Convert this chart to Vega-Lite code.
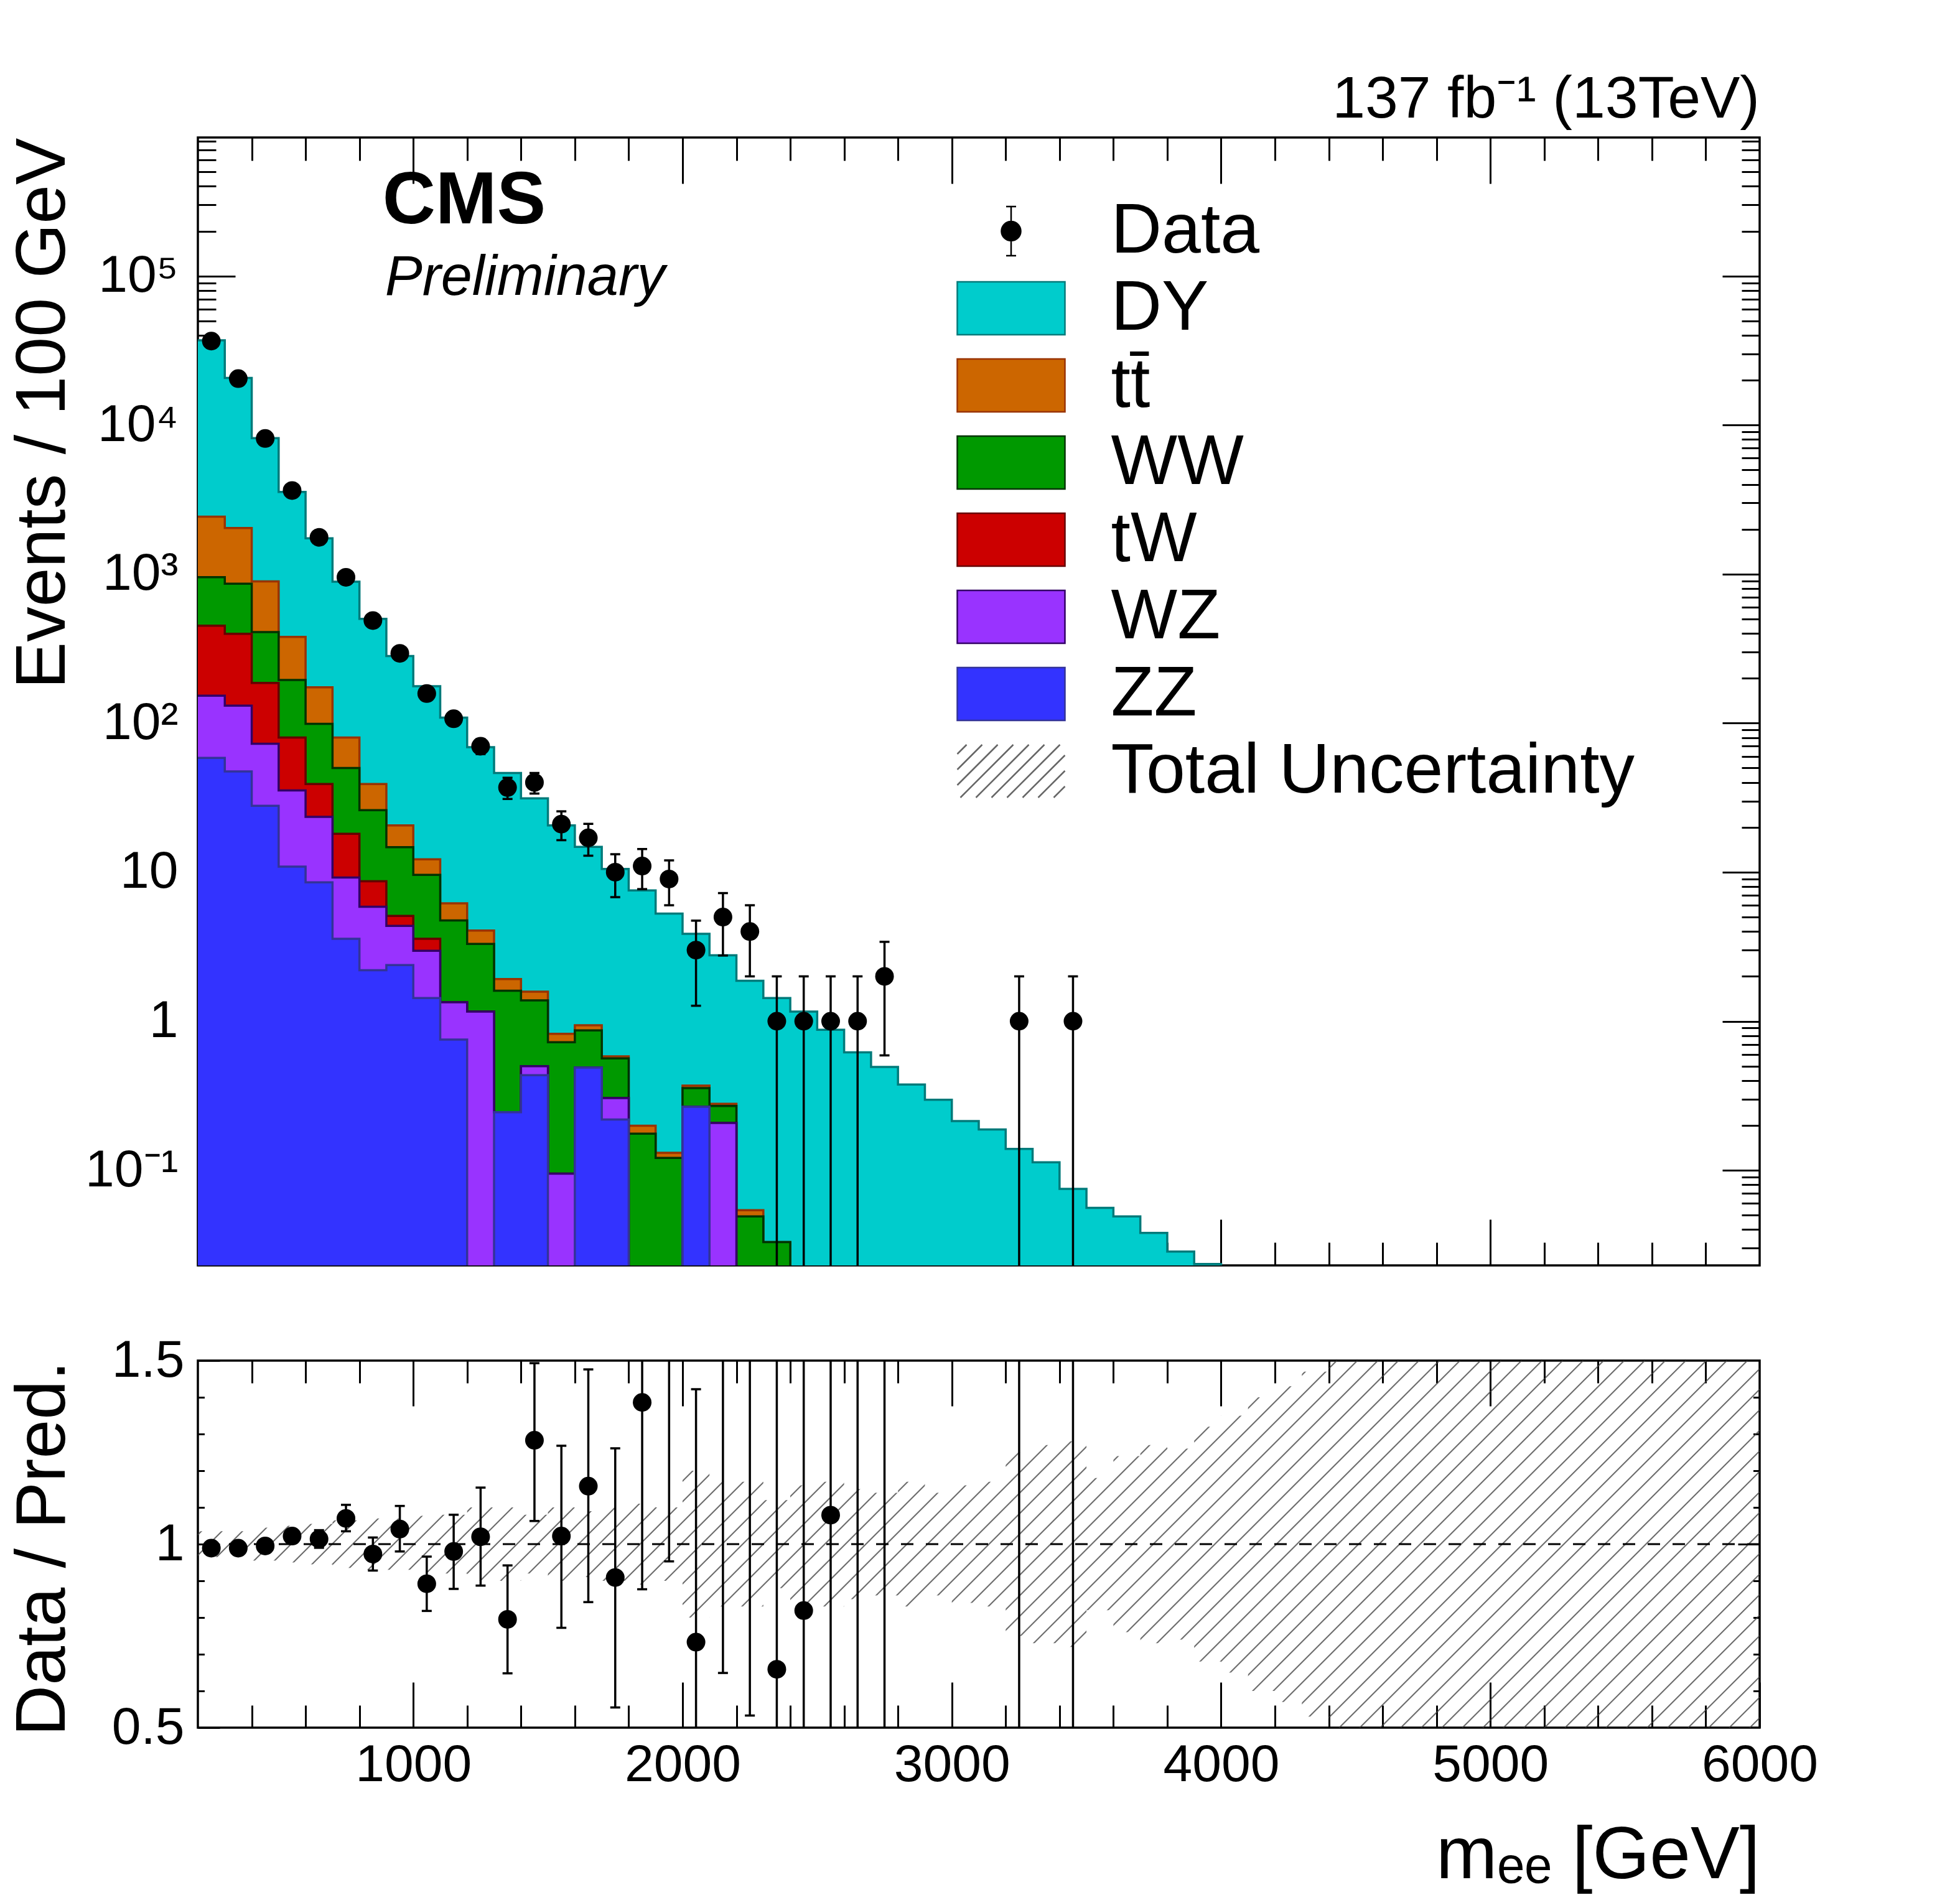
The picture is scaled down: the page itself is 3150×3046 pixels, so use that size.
{
  "$schema": "https://vega.github.io/schema/vega-lite/v6.json",
  "background": "white",
  "padding": {"left": 11, "top": 111, "right": 20, "bottom": 20},
  "bounds": "flush",
  "spacing": 153,
  "datasets": {
    "mc": [
      {"lo": 200, "dy": 37000, "tt": 2430, "ww": 953, "tw": 451, "wz": 153, "zz": 58.4},
      {"lo": 300, "dy": 20700, "tt": 2040, "ww": 863, "tw": 398, "wz": 131, "zz": 47.4},
      {"lo": 400, "dy": 8170, "tt": 893, "ww": 408, "tw": 186, "wz": 72.8, "zz": 27.9},
      {"lo": 500, "dy": 3560, "tt": 379, "ww": 195, "tw": 80, "wz": 35.4, "zz": 10.9},
      {"lo": 600, "dy": 1740, "tt": 174, "ww": 99, "tw": 39, "wz": 23.5, "zz": 8.55},
      {"lo": 700, "dy": 890, "tt": 80, "ww": 50, "tw": 18.1, "wz": 9.2, "zz": 3.57},
      {"lo": 800, "dy": 501, "tt": 39, "ww": 26.1, "tw": 8.7, "wz": 5.86, "zz": 2.2},
      {"lo": 900, "dy": 282, "tt": 20.6, "ww": 14.7, "tw": 5.09, "wz": 4.36, "zz": 2.38},
      {"lo": 1000, "dy": 177, "tt": 12.2, "ww": 9.6, "tw": 3.57, "wz": 2.97, "zz": 1.43},
      {"lo": 1100, "dy": 109, "tt": 6.18, "ww": 4.75, "tw": 1.34, "wz": 1.34, "zz": 0.753},
      {"lo": 1200, "dy": 69, "tt": 4.06, "ww": 3.3, "tw": 1.16, "wz": 1.16, "zz": 0.001},
      {"lo": 1300, "dy": 46.3, "tt": 1.92, "ww": 1.6, "tw": 0.245, "wz": 0.245, "zz": 0.245},
      {"lo": 1400, "dy": 31.3, "tt": 1.58, "ww": 1.38, "tw": 0.5, "wz": 0.5, "zz": 0.435},
      {"lo": 1500, "dy": 20.6, "tt": 0.824, "ww": 0.723, "tw": 0.095, "wz": 0.095, "zz": 0.001},
      {"lo": 1600, "dy": 14.8, "tt": 0.94, "ww": 0.869, "tw": 0.489, "wz": 0.489, "zz": 0.489},
      {"lo": 1700, "dy": 10.5, "tt": 0.581, "ww": 0.563, "tw": 0.305, "wz": 0.305, "zz": 0.219},
      {"lo": 1800, "dy": 7.54, "tt": 0.199, "ww": 0.176, "tw": 0.001, "wz": 0.001, "zz": 0.001},
      {"lo": 1900, "dy": 5.28, "tt": 0.131, "ww": 0.121, "tw": 0.001, "wz": 0.001, "zz": 0.001},
      {"lo": 2000, "dy": 3.86, "tt": 0.37, "ww": 0.356, "tw": 0.267, "wz": 0.267, "zz": 0.267},
      {"lo": 2100, "dy": 2.77, "tt": 0.279, "ww": 0.27, "tw": 0.208, "wz": 0.208, "zz": 0.001},
      {"lo": 2200, "dy": 1.87, "tt": 0.054, "ww": 0.049, "tw": 0.001, "wz": 0.001, "zz": 0.001},
      {"lo": 2300, "dy": 1.43, "tt": 0.033, "ww": 0.033, "tw": 0.001, "wz": 0.001, "zz": 0.001},
      {"lo": 2400, "dy": 1.16, "tt": 0.001, "ww": 0.001, "tw": 0.001, "wz": 0.001, "zz": 0.001},
      {"lo": 2500, "dy": 0.877, "tt": 0.001, "ww": 0.001, "tw": 0.001, "wz": 0.001, "zz": 0.001},
      {"lo": 2600, "dy": 0.618, "tt": 0.001, "ww": 0.001, "tw": 0.001, "wz": 0.001, "zz": 0.001},
      {"lo": 2700, "dy": 0.493, "tt": 0.001, "ww": 0.001, "tw": 0.001, "wz": 0.001, "zz": 0.001},
      {"lo": 2800, "dy": 0.376, "tt": 0.001, "ww": 0.001, "tw": 0.001, "wz": 0.001, "zz": 0.001},
      {"lo": 2900, "dy": 0.297, "tt": 0.001, "ww": 0.001, "tw": 0.001, "wz": 0.001, "zz": 0.001},
      {"lo": 3000, "dy": 0.214, "tt": 0.001, "ww": 0.001, "tw": 0.001, "wz": 0.001, "zz": 0.001},
      {"lo": 3100, "dy": 0.188, "tt": 0.001, "ww": 0.001, "tw": 0.001, "wz": 0.001, "zz": 0.001},
      {"lo": 3200, "dy": 0.139, "tt": 0.001, "ww": 0.001, "tw": 0.001, "wz": 0.001, "zz": 0.001},
      {"lo": 3300, "dy": 0.113, "tt": 0.001, "ww": 0.001, "tw": 0.001, "wz": 0.001, "zz": 0.001},
      {"lo": 3400, "dy": 0.075, "tt": 0.001, "ww": 0.001, "tw": 0.001, "wz": 0.001, "zz": 0.001},
      {"lo": 3500, "dy": 0.056, "tt": 0.001, "ww": 0.001, "tw": 0.001, "wz": 0.001, "zz": 0.001},
      {"lo": 3600, "dy": 0.049, "tt": 0.001, "ww": 0.001, "tw": 0.001, "wz": 0.001, "zz": 0.001},
      {"lo": 3700, "dy": 0.038, "tt": 0.001, "ww": 0.001, "tw": 0.001, "wz": 0.001, "zz": 0.001},
      {"lo": 3800, "dy": 0.0285, "tt": 0.001, "ww": 0.001, "tw": 0.001, "wz": 0.001, "zz": 0.001},
      {"lo": 3900, "dy": 0.0235, "tt": 0.001, "ww": 0.001, "tw": 0.001, "wz": 0.001, "zz": 0.001},
      {"lo": 4000, "dy": 0.001, "tt": 0.001, "ww": 0.001, "tw": 0.001, "wz": 0.001, "zz": 0.001},
      {"lo": 6000, "dy": 0.001, "tt": 0.001, "ww": 0.001, "tw": 0.001, "wz": 0.001, "zz": 0.001}
    ],
    "obs": [
      {"x": 250, "n": 36600, "lo": 36409, "hi": 36791},
      {"x": 350, "n": 20500, "lo": 20357, "hi": 20643},
      {"x": 450, "n": 8130, "lo": 8040, "hi": 8220},
      {"x": 550, "n": 3640, "lo": 3580, "hi": 3700},
      {"x": 650, "n": 1765, "lo": 1723, "hi": 1807},
      {"x": 750, "n": 952, "lo": 921, "hi": 983},
      {"x": 850, "n": 488, "lo": 466, "hi": 510},
      {"x": 950, "n": 294, "lo": 277, "hi": 311},
      {"x": 1050, "n": 158, "lo": 145, "hi": 171},
      {"x": 1150, "n": 107, "lo": 97, "hi": 117},
      {"x": 1250, "n": 70, "lo": 62, "hi": 78},
      {"x": 1350, "n": 37, "lo": 31, "hi": 43},
      {"x": 1450, "n": 40, "lo": 33.7, "hi": 46.3},
      {"x": 1550, "n": 21, "lo": 16.4, "hi": 25.6},
      {"x": 1650, "n": 17, "lo": 12.9, "hi": 21.1},
      {"x": 1750, "n": 10, "lo": 6.8, "hi": 13.2},
      {"x": 1850, "n": 11, "lo": 7.7, "hi": 14.3},
      {"x": 1950, "n": 9, "lo": 6, "hi": 12},
      {"x": 2050, "n": 3, "lo": 1.27, "hi": 4.73},
      {"x": 2150, "n": 5, "lo": 2.76, "hi": 7.24},
      {"x": 2250, "n": 4, "lo": 2, "hi": 6},
      {"x": 2350, "n": 1, "lo": 0.001, "hi": 2},
      {"x": 2450, "n": 1, "lo": 0.001, "hi": 2},
      {"x": 2550, "n": 1, "lo": 0.001, "hi": 2},
      {"x": 2650, "n": 1, "lo": 0.001, "hi": 2},
      {"x": 2750, "n": 2, "lo": 0.59, "hi": 3.41},
      {"x": 3250, "n": 1, "lo": 0.001, "hi": 2},
      {"x": 3450, "n": 1, "lo": 0.001, "hi": 2}
    ],
    "ratio": [
      {"x": 250, "r": 0.989, "lo": 0.984, "hi": 0.994},
      {"x": 350, "r": 0.989, "lo": 0.982, "hi": 0.996},
      {"x": 450, "r": 0.995, "lo": 0.984, "hi": 1.006},
      {"x": 550, "r": 1.022, "lo": 1.005, "hi": 1.039},
      {"x": 650, "r": 1.014, "lo": 0.99, "hi": 1.038},
      {"x": 750, "r": 1.07, "lo": 1.035, "hi": 1.107},
      {"x": 850, "r": 0.973, "lo": 0.928, "hi": 1.018},
      {"x": 950, "r": 1.041, "lo": 0.98, "hi": 1.104},
      {"x": 1050, "r": 0.892, "lo": 0.818, "hi": 0.966},
      {"x": 1150, "r": 0.98, "lo": 0.878, "hi": 1.08},
      {"x": 1250, "r": 1.02, "lo": 0.887, "hi": 1.154},
      {"x": 1350, "r": 0.795, "lo": 0.648, "hi": 0.942},
      {"x": 1450, "r": 1.283, "lo": 1.063, "hi": 1.493},
      {"x": 1550, "r": 1.022, "lo": 0.772, "hi": 1.268},
      {"x": 1650, "r": 1.158, "lo": 0.842, "hi": 1.476},
      {"x": 1750, "r": 0.909, "lo": 0.555, "hi": 1.261},
      {"x": 1850, "r": 1.386, "lo": 0.877, "hi": 1.9},
      {"x": 1950, "r": 1.7, "lo": 0.953, "hi": 2.4},
      {"x": 2050, "r": 0.733, "lo": 0.045, "hi": 1.422},
      {"x": 2150, "r": 1.8, "lo": 0.649, "hi": 2.9},
      {"x": 2250, "r": 2.1, "lo": 0.533, "hi": 3.2},
      {"x": 2350, "r": 0.659, "lo": 0.2, "hi": 2},
      {"x": 2450, "r": 0.819, "lo": 0.2, "hi": 2},
      {"x": 2550, "r": 1.079, "lo": 0.2, "hi": 2},
      {"x": 2650, "r": 1.6, "lo": 0.2, "hi": 2.5},
      {"x": 2750, "r": 4, "lo": 0.2, "hi": 6},
      {"x": 3250, "r": 7, "lo": 0.2, "hi": 14},
      {"x": 3450, "r": 13, "lo": 0.2, "hi": 26}
    ],
    "band": [
      {"lo": 200, "blo": 0.965, "bhi": 1.035},
      {"lo": 300, "blo": 0.965, "bhi": 1.035},
      {"lo": 400, "blo": 0.955, "bhi": 1.045},
      {"lo": 500, "blo": 0.95, "bhi": 1.05},
      {"lo": 600, "blo": 0.945, "bhi": 1.055},
      {"lo": 700, "blo": 0.935, "bhi": 1.065},
      {"lo": 800, "blo": 0.93, "bhi": 1.07},
      {"lo": 900, "blo": 0.93, "bhi": 1.07},
      {"lo": 1000, "blo": 0.923, "bhi": 1.077},
      {"lo": 1100, "blo": 0.92, "bhi": 1.08},
      {"lo": 1200, "blo": 0.9, "bhi": 1.1},
      {"lo": 1300, "blo": 0.9, "bhi": 1.1},
      {"lo": 1400, "blo": 0.92, "bhi": 1.08},
      {"lo": 1500, "blo": 0.9, "bhi": 1.1},
      {"lo": 1600, "blo": 0.91, "bhi": 1.09},
      {"lo": 1700, "blo": 0.9, "bhi": 1.1},
      {"lo": 1800, "blo": 0.89, "bhi": 1.11},
      {"lo": 1900, "blo": 0.9, "bhi": 1.1},
      {"lo": 2000, "blo": 0.8, "bhi": 1.2},
      {"lo": 2100, "blo": 0.83, "bhi": 1.17},
      {"lo": 2200, "blo": 0.83, "bhi": 1.17},
      {"lo": 2300, "blo": 0.88, "bhi": 1.12},
      {"lo": 2400, "blo": 0.84, "bhi": 1.16},
      {"lo": 2500, "blo": 0.83, "bhi": 1.17},
      {"lo": 2600, "blo": 0.85, "bhi": 1.15},
      {"lo": 2700, "blo": 0.86, "bhi": 1.14},
      {"lo": 2800, "blo": 0.83, "bhi": 1.17},
      {"lo": 2900, "blo": 0.86, "bhi": 1.14},
      {"lo": 3000, "blo": 0.84, "bhi": 1.16},
      {"lo": 3100, "blo": 0.83, "bhi": 1.17},
      {"lo": 3200, "blo": 0.75, "bhi": 1.25},
      {"lo": 3300, "blo": 0.73, "bhi": 1.27},
      {"lo": 3400, "blo": 0.72, "bhi": 1.28},
      {"lo": 3500, "blo": 0.82, "bhi": 1.18},
      {"lo": 3600, "blo": 0.76, "bhi": 1.24},
      {"lo": 3700, "blo": 0.73, "bhi": 1.27},
      {"lo": 3800, "blo": 0.74, "bhi": 1.26},
      {"lo": 3900, "blo": 0.68, "bhi": 1.32},
      {"lo": 4000, "blo": 0.65, "bhi": 1.35},
      {"lo": 4100, "blo": 0.6, "bhi": 1.4},
      {"lo": 4200, "blo": 0.57, "bhi": 1.43},
      {"lo": 4300, "blo": 0.53, "bhi": 1.47},
      {"lo": 4400, "blo": 0.5, "bhi": 1.5},
      {"lo": 6000, "blo": 0.5, "bhi": 1.5}
    ]
  },
  "vconcat": [
    {
      "width": 2510,
      "height": 1813,
      "title": {"text": "137 fb⁻¹ (13TeV)", "anchor": "end", "frame": "group", "font": "Liberation Sans", "fontSize": 95, "fontWeight": "normal", "baseline": "alphabetic", "offset": -99, "color": "#000"},
      "resolve": {"axis": {"x": "independent", "y": "independent"}},
      "layer": [
        {
          "data": {"name": "mc"},
          "mark": {"type": "area", "interpolate": "step-after", "color": "#00cccc", "opacity": 1, "clip": true, "line": {"color": "#007a7a", "strokeWidth": 3.5}},
          "encoding": {
            "x": {"field": "lo", "type": "quantitative", "scale": {"domain": [200, 6000], "nice": false, "zero": false},
              "axis": {"orient": "bottom", "values": [400, 600, 800, 1000, 1200, 1400, 1600, 1800, 2000, 2200, 2400, 2600, 2800, 3000, 3200, 3400, 3600, 3800, 4000, 4200, 4400, 4600, 4800, 5000, 5200, 5400, 5600, 5800],
                "labels": false, "title": null, "tickSize": {"condition": {"test": "datum.value % 1000 === 0", "value": -74}, "value": -37}}},
            "y": {"field": "dy", "type": "quantitative", "scale": {"type": "log", "domain": [0.023, 850000], "nice": false},
              "axis": {"orient": "left",
                "values": [0.03, 0.04, 0.05, 0.06, 0.07, 0.08, 0.09, 0.1, 0.2, 0.3, 0.4, 0.5, 0.6, 0.7, 0.8, 0.9, 1, 2, 3, 4, 5, 6, 7, 8, 9, 10, 20, 30, 40, 50, 60, 70, 80, 90, 100, 200, 300, 400, 500, 600, 700, 800, 900, 1000, 2000, 3000, 4000, 5000, 6000, 7000, 8000, 9000, 10000, 20000, 30000, 40000, 50000, 60000, 70000, 80000, 90000, 100000, 200000, 300000, 400000, 500000, 600000, 700000, 800000],
                "labelExpr": "datum.value===100000?'10⁵':datum.value===10000?'10⁴':datum.value===1000?'10³':datum.value===100?'10²':datum.value===10?'10':datum.value===1?'1':datum.value===0.1?'10⁻¹':''",
                "labelPadding": 92,
                "title": "Events / 100 GeV", "titleFontSize": 113, "titleAngle": 270, "titleAlign": "right", "titleBaseline": "alphabetic", "titleX": -215, "titleY": 0,
                "tickSize": {"condition": {"test": "datum.value===0.1||datum.value===1||datum.value===10||datum.value===100||datum.value===1000||datum.value===10000||datum.value===100000", "value": -60}, "value": -29}}},
            "y2": {"datum": 0.001}
          }
        },
        {
          "data": {"name": "mc"},
          "mark": {"type": "area", "interpolate": "step-after", "color": "#cc6600", "opacity": 1, "clip": true, "line": {"color": "#993300", "strokeWidth": 3.5}},
          "encoding": {
            "x": {"field": "lo", "type": "quantitative", "scale": {"domain": [200, 6000], "nice": false, "zero": false}, "axis": null},
            "y": {"field": "tt", "type": "quantitative", "scale": {"type": "log", "domain": [0.023, 850000], "nice": false}, "axis": null},
            "y2": {"datum": 0.001}
          }
        },
        {
          "data": {"name": "mc"},
          "mark": {"type": "area", "interpolate": "step-after", "color": "#009900", "opacity": 1, "clip": true, "line": {"color": "#003300", "strokeWidth": 3.5}},
          "encoding": {
            "x": {"field": "lo", "type": "quantitative", "scale": {"domain": [200, 6000], "nice": false, "zero": false}, "axis": null},
            "y": {"field": "ww", "type": "quantitative", "scale": {"type": "log", "domain": [0.023, 850000], "nice": false}, "axis": null},
            "y2": {"datum": 0.001}
          }
        },
        {
          "data": {"name": "mc"},
          "mark": {"type": "area", "interpolate": "step-after", "color": "#cc0000", "opacity": 1, "clip": true, "line": {"color": "#660000", "strokeWidth": 3.5}},
          "encoding": {
            "x": {"field": "lo", "type": "quantitative", "scale": {"domain": [200, 6000], "nice": false, "zero": false}, "axis": null},
            "y": {"field": "tw", "type": "quantitative", "scale": {"type": "log", "domain": [0.023, 850000], "nice": false}, "axis": null},
            "y2": {"datum": 0.001}
          }
        },
        {
          "data": {"name": "mc"},
          "mark": {"type": "area", "interpolate": "step-after", "color": "#9933ff", "opacity": 1, "clip": true, "line": {"color": "#330066", "strokeWidth": 3.5}},
          "encoding": {
            "x": {"field": "lo", "type": "quantitative", "scale": {"domain": [200, 6000], "nice": false, "zero": false}, "axis": null},
            "y": {"field": "wz", "type": "quantitative", "scale": {"type": "log", "domain": [0.023, 850000], "nice": false}, "axis": null},
            "y2": {"datum": 0.001}
          }
        },
        {
          "data": {"name": "mc"},
          "mark": {"type": "area", "interpolate": "step-after", "color": "#3333ff", "opacity": 1, "clip": true, "line": {"color": "#333399", "strokeWidth": 3.5}},
          "encoding": {
            "x": {"field": "lo", "type": "quantitative", "scale": {"domain": [200, 6000], "nice": false, "zero": false}, "axis": null},
            "y": {"field": "zz", "type": "quantitative", "scale": {"type": "log", "domain": [0.023, 850000], "nice": false}, "axis": null},
            "y2": {"datum": 0.001}
          }
        },
        {
          "data": {"name": "obs"},
          "mark": {"type": "rule", "color": "#000", "strokeWidth": 3.5, "clip": true},
          "encoding": {
            "x": {"field": "x", "type": "quantitative", "scale": {"domain": [200, 6000], "nice": false, "zero": false}, "axis": null},
            "y": {"field": "lo", "type": "quantitative", "scale": {"type": "log", "domain": [0.023, 850000], "nice": false}, "axis": null},
            "y2": {"field": "hi"}
          }
        },
        {
          "data": {"name": "obs"},
          "mark": {"type": "point", "shape": "M-1,0H1", "size": 256, "filled": false, "color": "#000", "strokeWidth": 3.5, "opacity": 1, "clip": true},
          "encoding": {
            "x": {"field": "x", "type": "quantitative", "scale": {"domain": [200, 6000], "nice": false, "zero": false}, "axis": null},
            "y": {"field": "hi", "type": "quantitative", "scale": {"type": "log", "domain": [0.023, 850000], "nice": false}, "axis": null}
          }
        },
        {
          "data": {"name": "obs"},
          "mark": {"type": "point", "shape": "M-1,0H1", "size": 256, "filled": false, "color": "#000", "strokeWidth": 3.5, "opacity": 1, "clip": true},
          "encoding": {
            "x": {"field": "x", "type": "quantitative", "scale": {"domain": [200, 6000], "nice": false, "zero": false}, "axis": null},
            "y": {"field": "lo", "type": "quantitative", "scale": {"type": "log", "domain": [0.023, 850000], "nice": false}, "axis": null}
          }
        },
        {
          "data": {"name": "obs"},
          "mark": {"type": "point", "shape": "circle", "filled": true, "size": 900, "color": "#000", "opacity": 1, "strokeWidth": 0, "clip": true},
          "encoding": {
            "x": {"field": "x", "type": "quantitative", "scale": {"domain": [200, 6000], "nice": false, "zero": false},
              "axis": {"orient": "top", "values": [400, 600, 800, 1000, 1200, 1400, 1600, 1800, 2000, 2200, 2400, 2600, 2800, 3000, 3200, 3400, 3600, 3800, 4000, 4200, 4400, 4600, 4800, 5000, 5200, 5400, 5600, 5800],
                "labels": false, "title": null, "tickSize": {"condition": {"test": "datum.value % 1000 === 0", "value": -74}, "value": -37}}},
            "y": {"field": "n", "type": "quantitative", "scale": {"type": "log", "domain": [0.023, 850000], "nice": false},
              "axis": {"orient": "right",
                "values": [0.03, 0.04, 0.05, 0.06, 0.07, 0.08, 0.09, 0.1, 0.2, 0.3, 0.4, 0.5, 0.6, 0.7, 0.8, 0.9, 1, 2, 3, 4, 5, 6, 7, 8, 9, 10, 20, 30, 40, 50, 60, 70, 80, 90, 100, 200, 300, 400, 500, 600, 700, 800, 900, 1000, 2000, 3000, 4000, 5000, 6000, 7000, 8000, 9000, 10000, 20000, 30000, 40000, 50000, 60000, 70000, 80000, 90000, 100000, 200000, 300000, 400000, 500000, 600000, 700000, 800000],
                "labels": false, "title": null,
                "tickSize": {"condition": {"test": "datum.value===0.1||datum.value===1||datum.value===10||datum.value===100||datum.value===1000||datum.value===10000||datum.value===100000", "value": -60}, "value": -29}}}
          }
        },
        {
          "data": {"values": [{}]},
          "mark": {"type": "point", "filled": true, "opacity": 0},
          "encoding": {
            "x": {"datum": 300, "type": "quantitative", "scale": {"domain": [200, 6000], "nice": false, "zero": false}, "axis": null},
            "y": {"datum": 1, "type": "quantitative", "scale": {"type": "log", "domain": [0.023, 850000], "nice": false}, "axis": null},
            "color": {"datum": "Data", "type": "nominal", "legend": {"title": null},
              "scale": {"domain": ["Data", "DY", "tt̄", "WW", "tW", "WZ", "ZZ", "Total Uncertainty"], "range": ["#000000", "#00cccc", "#cc6600", "#009900", "#cc0000", "#9933ff", "#3333ff", "transparent"]}},
            "stroke": {"datum": "Data", "type": "nominal", "legend": {"title": null},
              "scale": {"domain": ["Data", "DY", "tt̄", "WW", "tW", "WZ", "ZZ", "Total Uncertainty"], "range": ["#000000", "#007a7a", "#993300", "#003300", "#660000", "#330066", "#333399", "#666666"]}},
            "shape": {"datum": "Data", "type": "nominal", "legend": {"title": null},
              "scale": {"domain": ["Data", "DY", "tt̄", "WW", "tW", "WZ", "ZZ", "Total Uncertainty"], "range": [
                "M0,-0.79V0.79M-0.16,-0.79H0.16M-0.16,0.79H0.16M-0.31,0A0.31,0.31,0,1,1,0.31,0A0.31,0.31,0,1,1,-0.31,0Z",
                "M-1.73,-0.85H1.73V0.85H-1.73Z", "M-1.73,-0.85H1.73V0.85H-1.73Z", "M-1.73,-0.85H1.73V0.85H-1.73Z", "M-1.73,-0.85H1.73V0.85H-1.73Z", "M-1.73,-0.85H1.73V0.85H-1.73Z", "M-1.73,-0.85H1.73V0.85H-1.73Z",
                "M-1.73,-0.55L-1.43,-0.85M-1.73,-0.05L-0.93,-0.85M-1.73,0.45L-0.43,-0.85M-1.63,0.85L0.07,-0.85M-1.13,0.85L0.57,-0.85M-0.63,0.85L1.07,-0.85M-0.13,0.85L1.57,-0.85M0.37,0.85L1.73,-0.51M0.87,0.85L1.73,-0.01M1.37,0.85L1.73,0.49"]}}
          }
        },
        {
          "data": {"values": [{}]},
          "mark": {"type": "text", "text": "CMS", "font": "Liberation Sans", "fontWeight": "bold", "fontSize": 118, "align": "left", "baseline": "alphabetic", "color": "#000"},
          "encoding": {
            "x": {"datum": 886, "type": "quantitative", "scale": {"domain": [200, 6000], "nice": false, "zero": false}, "axis": null},
            "y": {"datum": 226000, "type": "quantitative", "scale": {"type": "log", "domain": [0.023, 850000], "nice": false}, "axis": null}
          }
        },
        {
          "data": {"values": [{}]},
          "mark": {"type": "text", "text": "Preliminary", "font": "Liberation Sans", "fontStyle": "italic", "fontSize": 90, "align": "left", "baseline": "alphabetic", "color": "#000"},
          "encoding": {
            "x": {"datum": 895, "type": "quantitative", "scale": {"domain": [200, 6000], "nice": false, "zero": false}, "axis": null},
            "y": {"datum": 75000, "type": "quantitative", "scale": {"type": "log", "domain": [0.023, 850000], "nice": false}, "axis": null}
          }
        }
      ]
    },
    {
      "width": 2510,
      "height": 590,
      "resolve": {"axis": {"x": "independent", "y": "independent"}},
      "layer": [
        {
          "data": {"name": "band"},
          "mark": {"type": "area", "interpolate": "step-after", "opacity": 1, "clip": true,
            "color": {"gradient": "linear", "x1": 0, "y1": 0, "x2": 1.2, "y2": 0.282, "stops": [
              {"offset": 0.0043, "color": "transparent"}, {"offset": 0.005, "color": "#555"}, {"offset": 0.0057, "color": "transparent"},
              {"offset": 0.01468, "color": "transparent"}, {"offset": 0.01538, "color": "#555"}, {"offset": 0.01608, "color": "transparent"},
              {"offset": 0.02506, "color": "transparent"}, {"offset": 0.02576, "color": "#555"}, {"offset": 0.02646, "color": "transparent"},
              {"offset": 0.03544, "color": "transparent"}, {"offset": 0.03614, "color": "#555"}, {"offset": 0.03684, "color": "transparent"},
              {"offset": 0.04582, "color": "transparent"}, {"offset": 0.04652, "color": "#555"}, {"offset": 0.04722, "color": "transparent"},
              {"offset": 0.0562, "color": "transparent"}, {"offset": 0.0569, "color": "#555"}, {"offset": 0.0576, "color": "transparent"},
              {"offset": 0.06658, "color": "transparent"}, {"offset": 0.06728, "color": "#555"}, {"offset": 0.06798, "color": "transparent"},
              {"offset": 0.07696, "color": "transparent"}, {"offset": 0.07766, "color": "#555"}, {"offset": 0.07836, "color": "transparent"},
              {"offset": 0.08734, "color": "transparent"}, {"offset": 0.08804, "color": "#555"}, {"offset": 0.08874, "color": "transparent"},
              {"offset": 0.09772, "color": "transparent"}, {"offset": 0.09842, "color": "#555"}, {"offset": 0.09912, "color": "transparent"},
              {"offset": 0.1081, "color": "transparent"}, {"offset": 0.1088, "color": "#555"}, {"offset": 0.1095, "color": "transparent"},
              {"offset": 0.11848, "color": "transparent"}, {"offset": 0.11918, "color": "#555"}, {"offset": 0.11988, "color": "transparent"},
              {"offset": 0.12886, "color": "transparent"}, {"offset": 0.12956, "color": "#555"}, {"offset": 0.13026, "color": "transparent"},
              {"offset": 0.13924, "color": "transparent"}, {"offset": 0.13994, "color": "#555"}, {"offset": 0.14064, "color": "transparent"},
              {"offset": 0.14962, "color": "transparent"}, {"offset": 0.15032, "color": "#555"}, {"offset": 0.15102, "color": "transparent"},
              {"offset": 0.16, "color": "transparent"}, {"offset": 0.1607, "color": "#555"}, {"offset": 0.1614, "color": "transparent"},
              {"offset": 0.17038, "color": "transparent"}, {"offset": 0.17108, "color": "#555"}, {"offset": 0.17178, "color": "transparent"},
              {"offset": 0.18076, "color": "transparent"}, {"offset": 0.18146, "color": "#555"}, {"offset": 0.18216, "color": "transparent"},
              {"offset": 0.19114, "color": "transparent"}, {"offset": 0.19184, "color": "#555"}, {"offset": 0.19254, "color": "transparent"},
              {"offset": 0.20152, "color": "transparent"}, {"offset": 0.20222, "color": "#555"}, {"offset": 0.20292, "color": "transparent"},
              {"offset": 0.2119, "color": "transparent"}, {"offset": 0.2126, "color": "#555"}, {"offset": 0.2133, "color": "transparent"},
              {"offset": 0.22228, "color": "transparent"}, {"offset": 0.22298, "color": "#555"}, {"offset": 0.22368, "color": "transparent"},
              {"offset": 0.23266, "color": "transparent"}, {"offset": 0.23336, "color": "#555"}, {"offset": 0.23406, "color": "transparent"},
              {"offset": 0.24304, "color": "transparent"}, {"offset": 0.24374, "color": "#555"}, {"offset": 0.24444, "color": "transparent"},
              {"offset": 0.25342, "color": "transparent"}, {"offset": 0.25412, "color": "#555"}, {"offset": 0.25482, "color": "transparent"},
              {"offset": 0.2638, "color": "transparent"}, {"offset": 0.2645, "color": "#555"}, {"offset": 0.2652, "color": "transparent"},
              {"offset": 0.27418, "color": "transparent"}, {"offset": 0.27488, "color": "#555"}, {"offset": 0.27558, "color": "transparent"},
              {"offset": 0.28456, "color": "transparent"}, {"offset": 0.28526, "color": "#555"}, {"offset": 0.28596, "color": "transparent"},
              {"offset": 0.29494, "color": "transparent"}, {"offset": 0.29564, "color": "#555"}, {"offset": 0.29634, "color": "transparent"},
              {"offset": 0.30532, "color": "transparent"}, {"offset": 0.30602, "color": "#555"}, {"offset": 0.30672, "color": "transparent"},
              {"offset": 0.3157, "color": "transparent"}, {"offset": 0.3164, "color": "#555"}, {"offset": 0.3171, "color": "transparent"},
              {"offset": 0.32608, "color": "transparent"}, {"offset": 0.32678, "color": "#555"}, {"offset": 0.32748, "color": "transparent"},
              {"offset": 0.33646, "color": "transparent"}, {"offset": 0.33716, "color": "#555"}, {"offset": 0.33786, "color": "transparent"},
              {"offset": 0.34684, "color": "transparent"}, {"offset": 0.34754, "color": "#555"}, {"offset": 0.34824, "color": "transparent"},
              {"offset": 0.35722, "color": "transparent"}, {"offset": 0.35792, "color": "#555"}, {"offset": 0.35862, "color": "transparent"},
              {"offset": 0.3676, "color": "transparent"}, {"offset": 0.3683, "color": "#555"}, {"offset": 0.369, "color": "transparent"},
              {"offset": 0.37798, "color": "transparent"}, {"offset": 0.37868, "color": "#555"}, {"offset": 0.37938, "color": "transparent"},
              {"offset": 0.38836, "color": "transparent"}, {"offset": 0.38906, "color": "#555"}, {"offset": 0.38976, "color": "transparent"},
              {"offset": 0.39874, "color": "transparent"}, {"offset": 0.39944, "color": "#555"}, {"offset": 0.40014, "color": "transparent"},
              {"offset": 0.40912, "color": "transparent"}, {"offset": 0.40982, "color": "#555"}, {"offset": 0.41052, "color": "transparent"},
              {"offset": 0.4195, "color": "transparent"}, {"offset": 0.4202, "color": "#555"}, {"offset": 0.4209, "color": "transparent"},
              {"offset": 0.42988, "color": "transparent"}, {"offset": 0.43058, "color": "#555"}, {"offset": 0.43128, "color": "transparent"},
              {"offset": 0.44026, "color": "transparent"}, {"offset": 0.44096, "color": "#555"}, {"offset": 0.44166, "color": "transparent"},
              {"offset": 0.45064, "color": "transparent"}, {"offset": 0.45134, "color": "#555"}, {"offset": 0.45204, "color": "transparent"},
              {"offset": 0.46102, "color": "transparent"}, {"offset": 0.46172, "color": "#555"}, {"offset": 0.46242, "color": "transparent"},
              {"offset": 0.4714, "color": "transparent"}, {"offset": 0.4721, "color": "#555"}, {"offset": 0.4728, "color": "transparent"},
              {"offset": 0.48178, "color": "transparent"}, {"offset": 0.48248, "color": "#555"}, {"offset": 0.48318, "color": "transparent"},
              {"offset": 0.49216, "color": "transparent"}, {"offset": 0.49286, "color": "#555"}, {"offset": 0.49356, "color": "transparent"},
              {"offset": 0.50254, "color": "transparent"}, {"offset": 0.50324, "color": "#555"}, {"offset": 0.50394, "color": "transparent"},
              {"offset": 0.51292, "color": "transparent"}, {"offset": 0.51362, "color": "#555"}, {"offset": 0.51432, "color": "transparent"},
              {"offset": 0.5233, "color": "transparent"}, {"offset": 0.524, "color": "#555"}, {"offset": 0.5247, "color": "transparent"},
              {"offset": 0.53368, "color": "transparent"}, {"offset": 0.53438, "color": "#555"}, {"offset": 0.53508, "color": "transparent"},
              {"offset": 0.54406, "color": "transparent"}, {"offset": 0.54476, "color": "#555"}, {"offset": 0.54546, "color": "transparent"},
              {"offset": 0.55444, "color": "transparent"}, {"offset": 0.55514, "color": "#555"}, {"offset": 0.55584, "color": "transparent"},
              {"offset": 0.56482, "color": "transparent"}, {"offset": 0.56552, "color": "#555"}, {"offset": 0.56622, "color": "transparent"},
              {"offset": 0.5752, "color": "transparent"}, {"offset": 0.5759, "color": "#555"}, {"offset": 0.5766, "color": "transparent"},
              {"offset": 0.58558, "color": "transparent"}, {"offset": 0.58628, "color": "#555"}, {"offset": 0.58698, "color": "transparent"},
              {"offset": 0.59596, "color": "transparent"}, {"offset": 0.59666, "color": "#555"}, {"offset": 0.59736, "color": "transparent"},
              {"offset": 0.60634, "color": "transparent"}, {"offset": 0.60704, "color": "#555"}, {"offset": 0.60774, "color": "transparent"},
              {"offset": 0.61672, "color": "transparent"}, {"offset": 0.61742, "color": "#555"}, {"offset": 0.61812, "color": "transparent"},
              {"offset": 0.6271, "color": "transparent"}, {"offset": 0.6278, "color": "#555"}, {"offset": 0.6285, "color": "transparent"},
              {"offset": 0.63748, "color": "transparent"}, {"offset": 0.63818, "color": "#555"}, {"offset": 0.63888, "color": "transparent"},
              {"offset": 0.64786, "color": "transparent"}, {"offset": 0.64856, "color": "#555"}, {"offset": 0.64926, "color": "transparent"},
              {"offset": 0.65824, "color": "transparent"}, {"offset": 0.65894, "color": "#555"}, {"offset": 0.65964, "color": "transparent"},
              {"offset": 0.66862, "color": "transparent"}, {"offset": 0.66932, "color": "#555"}, {"offset": 0.67002, "color": "transparent"},
              {"offset": 0.679, "color": "transparent"}, {"offset": 0.6797, "color": "#555"}, {"offset": 0.6804, "color": "transparent"},
              {"offset": 0.68938, "color": "transparent"}, {"offset": 0.69008, "color": "#555"}, {"offset": 0.69078, "color": "transparent"},
              {"offset": 0.69976, "color": "transparent"}, {"offset": 0.70046, "color": "#555"}, {"offset": 0.70116, "color": "transparent"},
              {"offset": 0.71014, "color": "transparent"}, {"offset": 0.71084, "color": "#555"}, {"offset": 0.71154, "color": "transparent"},
              {"offset": 0.72052, "color": "transparent"}, {"offset": 0.72122, "color": "#555"}, {"offset": 0.72192, "color": "transparent"},
              {"offset": 0.7309, "color": "transparent"}, {"offset": 0.7316, "color": "#555"}, {"offset": 0.7323, "color": "transparent"},
              {"offset": 0.74128, "color": "transparent"}, {"offset": 0.74198, "color": "#555"}, {"offset": 0.74268, "color": "transparent"},
              {"offset": 0.75166, "color": "transparent"}, {"offset": 0.75236, "color": "#555"}, {"offset": 0.75306, "color": "transparent"},
              {"offset": 0.76204, "color": "transparent"}, {"offset": 0.76274, "color": "#555"}, {"offset": 0.76344, "color": "transparent"},
              {"offset": 0.77242, "color": "transparent"}, {"offset": 0.77312, "color": "#555"}, {"offset": 0.77382, "color": "transparent"},
              {"offset": 0.7828, "color": "transparent"}, {"offset": 0.7835, "color": "#555"}, {"offset": 0.7842, "color": "transparent"},
              {"offset": 0.79318, "color": "transparent"}, {"offset": 0.79388, "color": "#555"}, {"offset": 0.79458, "color": "transparent"},
              {"offset": 0.80356, "color": "transparent"}, {"offset": 0.80426, "color": "#555"}, {"offset": 0.80496, "color": "transparent"},
              {"offset": 0.81394, "color": "transparent"}, {"offset": 0.81464, "color": "#555"}, {"offset": 0.81534, "color": "transparent"},
              {"offset": 0.82432, "color": "transparent"}, {"offset": 0.82502, "color": "#555"}, {"offset": 0.82572, "color": "transparent"},
              {"offset": 0.8347, "color": "transparent"}, {"offset": 0.8354, "color": "#555"}, {"offset": 0.8361, "color": "transparent"},
              {"offset": 0.84508, "color": "transparent"}, {"offset": 0.84578, "color": "#555"}, {"offset": 0.84648, "color": "transparent"},
              {"offset": 0.85546, "color": "transparent"}, {"offset": 0.85616, "color": "#555"}, {"offset": 0.85686, "color": "transparent"},
              {"offset": 0.86584, "color": "transparent"}, {"offset": 0.86654, "color": "#555"}, {"offset": 0.86724, "color": "transparent"},
              {"offset": 0.87622, "color": "transparent"}, {"offset": 0.87692, "color": "#555"}, {"offset": 0.87762, "color": "transparent"},
              {"offset": 0.8866, "color": "transparent"}, {"offset": 0.8873, "color": "#555"}, {"offset": 0.888, "color": "transparent"},
              {"offset": 0.89698, "color": "transparent"}, {"offset": 0.89768, "color": "#555"}, {"offset": 0.89838, "color": "transparent"},
              {"offset": 0.90736, "color": "transparent"}, {"offset": 0.90806, "color": "#555"}, {"offset": 0.90876, "color": "transparent"},
              {"offset": 0.91774, "color": "transparent"}, {"offset": 0.91844, "color": "#555"}, {"offset": 0.91914, "color": "transparent"},
              {"offset": 0.92812, "color": "transparent"}, {"offset": 0.92882, "color": "#555"}, {"offset": 0.92952, "color": "transparent"},
              {"offset": 0.9385, "color": "transparent"}, {"offset": 0.9392, "color": "#555"}, {"offset": 0.9399, "color": "transparent"},
              {"offset": 0.94888, "color": "transparent"}, {"offset": 0.94958, "color": "#555"}, {"offset": 0.95028, "color": "transparent"},
              {"offset": 0.95926, "color": "transparent"}, {"offset": 0.95996, "color": "#555"}, {"offset": 0.96066, "color": "transparent"},
              {"offset": 0.96964, "color": "transparent"}, {"offset": 0.97034, "color": "#555"}, {"offset": 0.97104, "color": "transparent"}
            ]}},
          "encoding": {
            "x": {"field": "lo", "type": "quantitative", "scale": {"domain": [200, 6000], "nice": false, "zero": false},
              "axis": {"orient": "bottom", "values": [400, 600, 800, 1000, 1200, 1400, 1600, 1800, 2000, 2200, 2400, 2600, 2800, 3000, 3200, 3400, 3600, 3800, 4000, 4200, 4400, 4600, 4800, 5000, 5200, 5400, 5600, 5800, 6000],
                "format": "d", "labelExpr": "datum.value % 1000 === 0 ? datum.label : ''", "labelBaseline": "top", "labelPadding": 92,
                "title": "mₑₑ [GeV]", "titleAlign": "right", "titleBaseline": "alphabetic", "titleX": 2510, "titleY": 241,
                "tickSize": {"condition": {"test": "datum.value % 1000 === 0", "value": -73}, "value": -36}}},
            "y": {"field": "blo", "type": "quantitative", "scale": {"domain": [0.5, 1.5], "nice": false, "zero": false},
              "axis": {"orient": "left", "values": [0.5, 0.6, 0.7, 0.8, 0.9, 1, 1.1, 1.2, 1.3, 1.4, 1.5],
                "labelExpr": "datum.value===0.5?'0.5':datum.value===1?'1':datum.value===1.5?'1.5':''", "labelPadding": 57,
                "title": "Data / Pred.", "titleFontSize": 113, "titleAngle": 270, "titleAlign": "right", "titleBaseline": "alphabetic", "titleX": -215, "titleY": 0,
                "tickSize": {"condition": {"test": "datum.value===1||datum.value===0.5||datum.value===1.5", "value": -35}, "value": -10.5}}},
            "y2": {"field": "bhi"}
          }
        },
        {
          "data": {"values": [{}]},
          "mark": {"type": "rule", "color": "#000", "strokeWidth": 3, "strokeDash": [20, 20]},
          "encoding": {
            "y": {"datum": 1, "type": "quantitative", "scale": {"domain": [0.5, 1.5], "nice": false, "zero": false}, "axis": null}
          }
        },
        {
          "data": {"name": "ratio"},
          "mark": {"type": "rule", "color": "#000", "strokeWidth": 3.5, "clip": true},
          "encoding": {
            "x": {"field": "x", "type": "quantitative", "scale": {"domain": [200, 6000], "nice": false, "zero": false}, "axis": null},
            "y": {"field": "lo", "type": "quantitative", "scale": {"domain": [0.5, 1.5], "nice": false, "zero": false}, "axis": null},
            "y2": {"field": "hi"}
          }
        },
        {
          "data": {"name": "ratio"},
          "mark": {"type": "point", "shape": "M-1,0H1", "size": 256, "filled": false, "color": "#000", "strokeWidth": 3.5, "opacity": 1, "clip": true},
          "encoding": {
            "x": {"field": "x", "type": "quantitative", "scale": {"domain": [200, 6000], "nice": false, "zero": false}, "axis": null},
            "y": {"field": "hi", "type": "quantitative", "scale": {"domain": [0.5, 1.5], "nice": false, "zero": false}, "axis": null}
          }
        },
        {
          "data": {"name": "ratio"},
          "mark": {"type": "point", "shape": "M-1,0H1", "size": 256, "filled": false, "color": "#000", "strokeWidth": 3.5, "opacity": 1, "clip": true},
          "encoding": {
            "x": {"field": "x", "type": "quantitative", "scale": {"domain": [200, 6000], "nice": false, "zero": false}, "axis": null},
            "y": {"field": "lo", "type": "quantitative", "scale": {"domain": [0.5, 1.5], "nice": false, "zero": false}, "axis": null}
          }
        },
        {
          "data": {"name": "ratio"},
          "mark": {"type": "point", "shape": "circle", "filled": true, "size": 900, "color": "#000", "opacity": 1, "strokeWidth": 0, "clip": true},
          "encoding": {
            "x": {"field": "x", "type": "quantitative", "scale": {"domain": [200, 6000], "nice": false, "zero": false},
              "axis": {"orient": "top", "values": [400, 600, 800, 1000, 1200, 1400, 1600, 1800, 2000, 2200, 2400, 2600, 2800, 3000, 3200, 3400, 3600, 3800, 4000, 4200, 4400, 4600, 4800, 5000, 5200, 5400, 5600, 5800],
                "labels": false, "title": null, "tickSize": {"condition": {"test": "datum.value % 1000 === 0", "value": -73}, "value": -36}}},
            "y": {"field": "r", "type": "quantitative", "scale": {"domain": [0.5, 1.5], "nice": false, "zero": false},
              "axis": {"orient": "right", "values": [0.6, 0.7, 0.8, 0.9, 1, 1.1, 1.2, 1.3, 1.4],
                "labels": false, "title": null,
                "tickSize": {"condition": {"test": "datum.value===1", "value": -35}, "value": -10.5}}}
          }
        }
      ]
    }
  ],
  "config": {
    "font": "Liberation Sans",
    "view": {"stroke": "#000", "strokeWidth": 3.5},
    "axis": {"domain": false, "grid": false, "ticks": true, "tickColor": "#000", "tickWidth": 3, "zindex": 1,
      "labelFont": "Liberation Sans", "labelFontSize": 84, "labelColor": "#000", "labelOverlap": false, "labelFlush": false, "labelLimit": 1000,
      "titleFont": "Liberation Sans", "titleFontSize": 118, "titleFontWeight": "normal", "titleColor": "#000"},
    "legend": {"orient": "none", "legendX": 1250.5, "legendY": 94, "padding": 0,
      "symbolSize": 10000, "symbolStrokeWidth": 2.5, "symbolOpacity": 1, "rowPadding": 10,
      "labelFont": "Liberation Sans", "labelFontSize": 113, "labelColor": "#000", "labelOffset": 104, "labelLimit": 3000}
  }
}
